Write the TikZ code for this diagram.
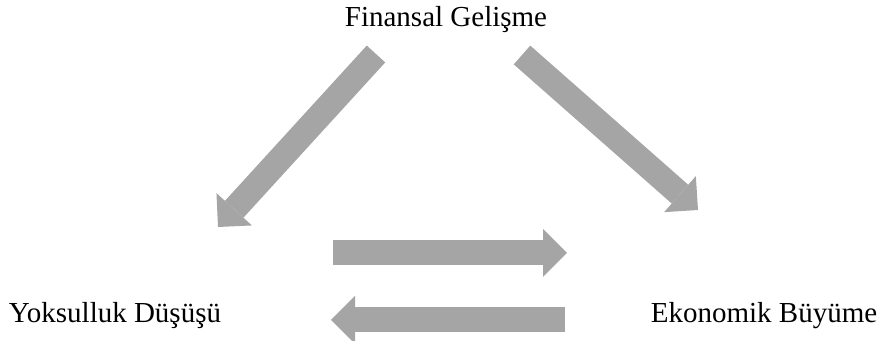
\documentclass[tikz,border=0pt]{standalone}
\usepackage{fontspec}
\setmainfont{Liberation Serif}
\usepackage{xcolor}
\definecolor{arrowGray}{HTML}{A5A5A5}
\usetikzlibrary{arrows.meta, positioning, calc}
\tikzset{
    label/.style={inner sep=0pt, anchor=base,
                  font=\fontsize{14.5}{17}\selectfont},
    bigarrow/.style={-{Triangle[width=24pt, length=12pt, line width=0pt]},
                     line width=12.5pt, arrowGray},
}

\begin{document}
\begin{tikzpicture}[x=0.5pt, y=0.5pt]
    \useasboundingbox (0,0) rectangle (884,341);
    % three concepts
    \node[label] (fin) at (446,314) {Finansal Gelişme};
    \node[label] (yok) at (115,18) {Yoksulluk Düşüşü};
    \node[label] (eko) at (764,18) {Ekonomik Büyüme};
    % arrow ends
    \coordinate (fy1) at (376,287);
    \coordinate (fy2) at (218,114);
    \coordinate (fe1) at (522,286);
    \coordinate (fe2) at (698,131);
    \coordinate (ye1) at (333,88);
    \coordinate (ye2) at (567,88);
    \coordinate (ey1) at (565,21);
    \coordinate (ey2) at (331,21);
    \draw[bigarrow] (fy1) -- (fy2);
    \draw[bigarrow] (fe1) -- (fe2);
    \draw[bigarrow] (ye1) -- (ye2);
    \draw[bigarrow] (ey1) -- (ey2);
\end{tikzpicture}
\end{document}
